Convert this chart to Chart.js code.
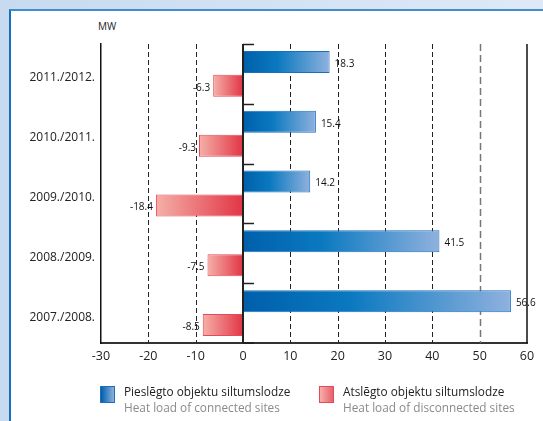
<!DOCTYPE html>
<html>
<head>
<meta charset="utf-8">
<script src="https://cdn.jsdelivr.net/npm/chart.js@4/dist/chart.umd.min.js"></script>
<style>
  html, body { margin: 0; padding: 0; }
  body {
    width: 543px; height: 421px; overflow: hidden; position: relative;
    background: linear-gradient(to right, #c8daf0, #dfe9f6);
    font-family: "Open Sans", sans-serif;
  }
  #panel {
    position: absolute; left: 9px; top: 9px; right: 0; bottom: 0;
    background: #fff;
    border-left: 2px solid #1670c2;
    border-top: 2px solid #3f8ed0;
  }
  #wrap { position: absolute; left: 0; top: 0; width: 543px; height: 421px; }
  #unit { position: absolute; left: 98px; top: 19px; font-size: 10px; color: #222; }
  .leg { position: absolute; top: 385px; }
  .leg .box { position: absolute; left: 0; top: 1px; width: 13px; height: 15px; border: 1px solid; }
  .leg .t1 { position: absolute; left: 24px; top: -2px; font-size: 11.8px; color: #222; white-space: nowrap; }
  .leg .t2 { position: absolute; left: 24px; top: 14px; font-size: 11.8px; color: #8a8a8a; white-space: nowrap; }
</style>
</head>
<body>
<div id="panel"></div>
<div id="unit">MW</div>
<div id="wrap"><canvas id="chart" width="543" height="421"></canvas></div>
<div class="leg" style="left:100px">
  <div class="box" style="border-color:#1b6fbd;background:linear-gradient(to right,#005fab,#8fb1de)"></div>
  <div class="t1">Pieslēgto objektu siltumslodze</div>
  <div class="t2">Heat load of connected sites</div>
</div>
<div class="leg" style="left:319px">
  <div class="box" style="border-color:#e5495a;background:linear-gradient(to right,#f5b0a8,#e8606a)"></div>
  <div class="t1">Atslēgto objektu siltumslodze</div>
  <div class="t2">Heat load of disconnected sites</div>
</div>
<script>
const categories = ['2011./2012.', '2010./2011.', '2009./2010.', '2008./2009.', '2007./2008.']
const connected = [18.3, 15.4, 14.2, 41.5, 56.6]
const disconnected = [-6.3, -9.3, -18.4, -7.5, -8.5]
const xMin = -30
const xMax = 60
const xStep = 10

const blueStops = [[0, '#005fab'], [0.4, '#0a79c0'], [1, '#8fb1de']]
const redStops = [[0, '#e23545'], [1, '#f5b0a8']]

function barGradient(context, stops){
    const chart = context.chart
    const xs = chart.scales.x
    if(!chart.chartArea || !xs || typeof context.raw !== 'number') return stops[0][1]
    const x0 = xs.getPixelForValue(0)
    const x1 = xs.getPixelForValue(context.raw)
    const g = chart.ctx.createLinearGradient(x0, 0, x1, 0)
    stops.forEach(s => g.addColorStop(s[0], s[1]))
    return g
}

// dashed grid, solid zero / right edge, category marks on the zero line
const gridLines = {
    id: 'gridLines',
    beforeDatasetsDraw(chart){
        const {ctx, chartArea: a, scales: {x}} = chart
        ctx.save()
        for(let v = xMin + xStep; v < xMax; v += xStep){
            if(v === 0) continue
            const px = Math.round(x.getPixelForValue(v)) + 0.5
            ctx.beginPath()
            if(v === 50){ ctx.strokeStyle = '#777'; ctx.lineWidth = 1.5; ctx.setLineDash([7, 4]) }
            else { ctx.strokeStyle = '#222'; ctx.lineWidth = 1; ctx.setLineDash([5, 3]) }
            ctx.moveTo(px, a.top)
            ctx.lineTo(px, a.bottom)
            ctx.stroke()
        }
        ctx.setLineDash([])
        ctx.strokeStyle = '#111'
        ctx.lineWidth = 1.5
        const pr = x.getPixelForValue(xMax)
        ctx.beginPath(); ctx.moveTo(pr, a.top); ctx.lineTo(pr, a.bottom); ctx.stroke()
        ctx.restore()
    },
    afterDatasetsDraw(chart){
        const {ctx, chartArea: a, scales: {x, y}} = chart
        const p0 = x.getPixelForValue(0)
        ctx.save()
        ctx.strokeStyle = '#222'
        ctx.lineWidth = 2
        ctx.beginPath(); ctx.moveTo(p0, a.top); ctx.lineTo(p0, a.bottom); ctx.stroke()
        ctx.lineWidth = 1.5
        const half = (y.getPixelForValue(1) - y.getPixelForValue(0)) / 2
        for(let i = 0; i < categories.length; i++){
            const py = Math.round(y.getPixelForValue(i) - half) + 0.5
            ctx.beginPath(); ctx.moveTo(p0, py); ctx.lineTo(p0 + 11, py); ctx.stroke()
        }
        ctx.lineWidth = 2
        ctx.beginPath(); ctx.moveTo(p0, a.bottom); ctx.lineTo(p0 + 11, a.bottom); ctx.stroke()
        ctx.restore()
    }
}

const valueLabels = {
    id: 'valueLabels',
    afterDatasetsDraw(chart){
        const ctx = chart.ctx
        ctx.save()
        ctx.font = '10px "Open Sans", sans-serif'
        ctx.fillStyle = '#111'
        ctx.textBaseline = 'middle'
        chart.data.datasets.forEach((ds, di) => {
            chart.getDatasetMeta(di).data.forEach((bar, i) => {
                const v = ds.data[i]
                if(v >= 0){
                    ctx.textAlign = 'left'
                    ctx.fillText(v.toFixed(1), bar.x + 5, bar.y + 2)
                } else {
                    ctx.textAlign = 'right'
                    ctx.fillText(v.toFixed(1), bar.x - 3, bar.y + 2)
                }
            })
        })
        ctx.restore()
    }
}

new Chart(document.getElementById('chart'), {
    type: 'bar',
    data: {
        labels: categories,
        datasets: [
            {
                label: 'Pieslēgto objektu siltumslodze',
                data: connected,
                backgroundColor: c => barGradient(c, blueStops),
                borderColor: '#1b6fbd',
                borderWidth: 1,
                borderSkipped: false,
                categoryPercentage: 0.8,
                barPercentage: 0.92
            },
            {
                label: 'Atslēgto objektu siltumslodze',
                data: disconnected,
                backgroundColor: c => barGradient(c, redStops),
                borderColor: '#e5495a',
                borderWidth: 1,
                borderSkipped: false,
                categoryPercentage: 0.8,
                barPercentage: 0.92
            }
        ]
    },
    options: {
        indexAxis: 'y',
        responsive: false,
        animation: false,
        layout: { padding: { top: 44, right: 16, bottom: 53, left: 0 } },
        plugins: { legend: { display: false }, tooltip: { enabled: false } },
        scales: {
            x: {
                min: xMin,
                max: xMax,
                ticks: { stepSize: xStep, padding: 6, maxRotation: 0, color: '#222', font: { family: 'Open Sans', size: 12.5 } },
                grid: { display: false, drawTicks: false },
                border: { display: true, color: '#333', width: 2 },
                afterFit: s => { s.height = 25 }
            },
            y: {
                ticks: { padding: 6, labelOffset: 4, color: '#222', font: { family: 'Open Sans', size: 12 } },
                grid: { display: false, drawTicks: false },
                border: { display: true, color: '#111', width: 1.5 },
                afterFit: s => { s.width = 101 }
            }
        }
    },
    plugins: [gridLines, valueLabels]
})
</script>
</body>
</html>
